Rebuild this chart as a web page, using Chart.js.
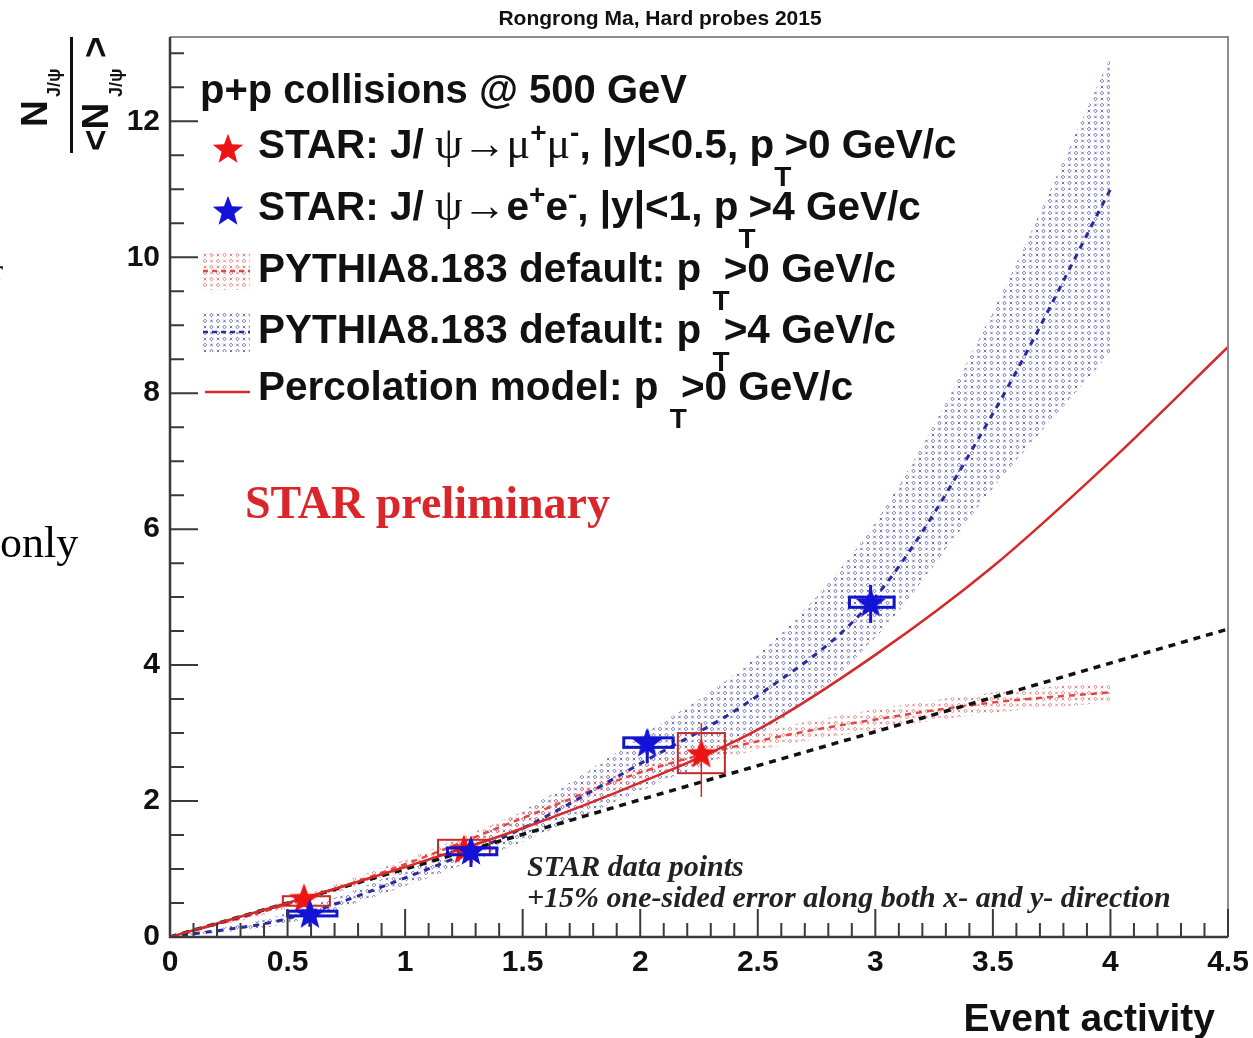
<!DOCTYPE html>
<html>
<head>
<meta charset="utf-8">
<script src="https://cdn.jsdelivr.net/npm/chart.js@4.4.1/dist/chart.umd.min.js"></script>
<style>
  html, body { margin: 0; padding: 0; background: #fff; }
</style>
</head>
<body>
<canvas id="plot" width="1253" height="1038"></canvas>
<script>
// axis labels
const xTickLabels = [0, 0.5, 1, 1.5, 2, 2.5, 3, 3.5, 4, 4.5];
const yTickLabels = [0, 2, 4, 6, 8, 10, 12];

// STAR J/psi -> e+e-, pT > 4 GeV/c
const eeX = [0.595, 1.28, 2.03, 2.98];
const eeY = [0.35, 1.28, 2.87, 4.93];
const eeStatLo = [0.15, 1.03, 2.56, 4.62];
const eeStatHi = [0.50, 1.43, 3.04, 5.18];
const eeBoxX0 = [0.50, 1.18, 1.93, 2.89];
const eeBoxX1 = [0.71, 1.39, 2.14, 3.08];
const eeBoxY0 = [0.31, 1.21, 2.79, 4.85];
const eeBoxY1 = [0.38, 1.31, 2.93, 5.00];

// STAR J/psi -> mu+mu-, pT > 0 GeV/c
const muX = [0.57, 1.25, 2.26];
const muY = [0.58, 1.30, 2.71];
const muStatLo = [0.50, 1.20, 2.06];
const muStatHi = [0.66, 1.40, 3.15];
const muBoxX0 = [0.48, 1.14, 2.16];
const muBoxX1 = [0.68, 1.36, 2.36];
const muBoxY0 = [0.46, 1.21, 2.41];
const muBoxY1 = [0.60, 1.43, 3.00];

// percolation model, pT > 0
const percX = [0, 0.5, 1.0, 1.5, 2.0, 2.5, 3.0, 3.5, 4.0, 4.5];
const percY = [0, 0.5, 1.03, 1.6, 2.27, 3.05, 4.15, 5.45, 7.0, 8.68];

// linear reference
const linX = [0, 1, 2, 3, 4, 4.5];
const linY = [0, 1.0, 2.02, 3.02, 4.03, 4.53];

// PYTHIA8.183 default
const pyX = [0, 0.5, 1.0, 1.5, 2.0, 2.5, 3.0, 3.5, 4.0];
const pyPt0Mean = [0, 0.48, 1.07, 1.75, 2.42, 2.88, 3.2, 3.45, 3.6];
const pyPt0Lo = [0, 0.42, 1.0, 1.66, 2.3, 2.75, 3.05, 3.3, 3.45];
const pyPt0Hi = [0, 0.54, 1.14, 1.84, 2.54, 3.01, 3.35, 3.6, 3.75];
const pyPt4Mean = [0, 0.27, 0.87, 1.6, 2.55, 3.55, 5.0, 7.7, 11.0];
const pyPt4Lo = [0, 0.2, 0.75, 1.4, 2.15, 2.95, 4.4, 6.6, 8.6];
const pyPt4Hi = [0, 0.35, 1.0, 1.85, 2.95, 4.15, 6.1, 9.2, 12.95];

const pts = (xs, ys) => xs.map((v, i) => ({ x: v, y: ys[i] }));

const canvas = document.getElementById('plot');
const ctx0 = canvas.getContext('2d');

function makeStar(fill, size) {
  const c = document.createElement('canvas');
  c.width = size; c.height = size;
  const g = c.getContext('2d');
  const cx = size / 2, cy = size / 2 + size * 0.05, R = size / 2 - 1, r = R * 0.42;
  g.beginPath();
  for (let k = 0; k < 10; k++) {
    const rad = k % 2 ? r : R;
    const ang = -Math.PI / 2 + k * Math.PI / 5;
    g.lineTo(cx + rad * Math.cos(ang), cy + rad * Math.sin(ang));
  }
  g.closePath();
  g.fillStyle = fill;
  g.fill();
  return c;
}

// ROOT-like hatch: small diamonds and crosses
function makeHatch(color) {
  const c = document.createElement('canvas');
  c.width = 13; c.height = 12;
  const g = c.getContext('2d');
  g.strokeStyle = color;
  g.lineWidth = 1;
  const diamond = (x, y) => {
    g.beginPath(); g.moveTo(x, y - 1.8); g.lineTo(x + 1.8, y); g.lineTo(x, y + 1.8); g.lineTo(x - 1.8, y); g.closePath(); g.stroke();
  };
  const cross = (x, y) => {
    g.beginPath(); g.moveTo(x - 1.3, y - 1.3); g.lineTo(x + 1.3, y + 1.3);
    g.moveTo(x + 1.3, y - 1.3); g.lineTo(x - 1.3, y + 1.3); g.stroke();
  };
  diamond(3.5, 3); cross(10, 3); cross(3.5, 9); diamond(10, 9);
  return ctx0.createPattern(c, 'repeat');
}

const starRed = makeStar('#ee1414', 34);
const starBlue = makeStar('#1212d8', 34);
const hatchBlue = makeHatch('rgba(80,80,170,0.8)');
const hatchRed = makeHatch('rgba(230,110,110,0.85)');

function drawErrors(chart, xs, lo, hi, bx0, bx1, by0, by1, color, barW, boxW) {
  const { ctx, scales: { x, y } } = chart;
  ctx.save();
  ctx.strokeStyle = color;
  for (let i = 0; i < xs.length; i++) {
    const px = x.getPixelForValue(xs[i]);
    ctx.lineWidth = barW;
    ctx.beginPath();
    ctx.moveTo(px, y.getPixelForValue(lo[i]));
    ctx.lineTo(px, y.getPixelForValue(hi[i]));
    ctx.stroke();
    const l = x.getPixelForValue(bx0[i]), r = x.getPixelForValue(bx1[i]);
    const t = y.getPixelForValue(by1[i]), b = y.getPixelForValue(by0[i]);
    ctx.lineWidth = boxW;
    ctx.strokeRect(l, t, r - l, b - t);
  }
  ctx.restore();
}

// draws a run of text pieces left to right
function rich(ctx, x, y, parts) {
  let cx = x;
  for (const p of parts) {
    ctx.font = p.f;
    ctx.fillText(p.t, cx, y + (p.dy || 0));
    cx += ctx.measureText(p.t).width + (p.dx || 0);
  }
}

const B = 'bold 40.5px "Liberation Sans"';
const S = 'bold 28px "Liberation Sans"';
const G = '44px "Liberation Serif"';

const decor = {
  id: 'decor',
  beforeDatasetDraw(chart, args) {
    if (args.index === 0) {
      drawErrors(chart, eeX, eeStatLo, eeStatHi, eeBoxX0, eeBoxX1, eeBoxY0, eeBoxY1, '#1414c8', 3, 3);
    } else if (args.index === 1) {
      drawErrors(chart, muX, muStatLo, muStatHi, muBoxX0, muBoxX1, muBoxY0, muBoxY1, '#c42a2a', 1.5, 2);
    }
  },
  afterDraw(chart) {
    const { ctx, chartArea: a, scales: { x, y } } = chart;
    ctx.save();

    // frame
    ctx.strokeStyle = '#8c8c8c';
    ctx.lineWidth = 2;
    ctx.beginPath();
    ctx.moveTo(a.left, a.top); ctx.lineTo(a.right, a.top); ctx.lineTo(a.right, a.bottom);
    ctx.stroke();
    ctx.strokeStyle = '#3a3a3a';
    ctx.lineWidth = 2.5;
    ctx.beginPath();
    ctx.moveTo(a.left, a.top); ctx.lineTo(a.left, a.bottom); ctx.lineTo(a.right, a.bottom);
    ctx.stroke();

    // inward ticks
    ctx.lineWidth = 2;
    ctx.beginPath();
    for (let i = 0; i <= 45; i++) {
      const px = x.getPixelForValue(i / 10);
      const len = i % 5 === 0 ? 28 : 14;
      ctx.moveTo(px, a.bottom); ctx.lineTo(px, a.bottom - len);
    }
    for (let i = 0; i <= 26; i++) {
      const py = y.getPixelForValue(i / 2);
      const len = i % 4 === 0 ? 28 : 14;
      ctx.moveTo(a.left, py); ctx.lineTo(a.left + len, py);
    }
    ctx.stroke();

    ctx.fillStyle = '#111';
    ctx.textBaseline = 'alphabetic';

    // title
    ctx.textAlign = 'center';
    ctx.font = 'bold 21px "Liberation Sans"';
    ctx.fillText('Rongrong Ma, Hard probes 2015', 660, 25);

    // x title
    ctx.textAlign = 'right';
    ctx.font = 'bold 39px "Liberation Sans"';
    ctx.fillText('Event activity', 1215, 1031);

    // y title: N_{J/psi} / <N_{J/psi}>, rotated
    ctx.textAlign = 'left';
    ctx.save();
    ctx.translate(0, 155);
    ctx.rotate(-Math.PI / 2);
    ctx.font = 'bold 37px "Liberation Sans"';
    ctx.fillText('N', 28, 47);
    ctx.fillText('<N', 4, 108);
    ctx.fillText('>', 97, 108);
    ctx.font = 'bold 18px "Liberation Sans"';
    ctx.fillText('J/\u03c8', 58, 60);
    ctx.fillText('J/\u03c8', 58, 122);
    ctx.fillRect(2, 70, 116, 3);
    ctx.restore();

    // legend
    ctx.fillStyle = '#111';
    ctx.font = 'bold 40px "Liberation Sans"';
    ctx.fillText('p+p collisions @ 500 GeV', 200, 103);
    ctx.drawImage(starRed, 211, 131);
    rich(ctx, 258, 158, [
      { t: 'STAR: J/ ', f: B }, { t: '\u03c8', f: G }, { t: '\u2192', f: G }, { t: '\u03bc', f: G },
      { t: '+', f: S, dy: -16 }, { t: '\u03bc', f: G }, { t: '-', f: S, dy: -16 },
      { t: ', |y|<0.5, p', f: B, dx: 0 }, { t: 'T', f: S, dy: 28, dx: -7 }, { t: '>0 GeV/c', f: B }
    ]);
    ctx.drawImage(starBlue, 211, 193);
    rich(ctx, 258, 220, [
      { t: 'STAR: J/ ', f: B }, { t: '\u03c8', f: G }, { t: '\u2192', f: G }, { t: 'e', f: B },
      { t: '+', f: S, dy: -16 }, { t: 'e', f: B }, { t: '-', f: S, dy: -16 },
      { t: ', |y|<1, p', f: B, dx: 0 }, { t: 'T', f: S, dy: 28, dx: -7 }, { t: '>4 GeV/c', f: B }
    ]);

    ctx.fillStyle = hatchRed;
    ctx.fillRect(203, 252, 47, 38);
    ctx.fillStyle = hatchBlue;
    ctx.fillRect(203, 313, 47, 39);
    ctx.lineWidth = 2.5;
    ctx.setLineDash([5, 4]);
    ctx.strokeStyle = '#e04848';
    ctx.beginPath(); ctx.moveTo(203, 271); ctx.lineTo(250, 271); ctx.stroke();
    ctx.strokeStyle = '#2a2a9c';
    ctx.beginPath(); ctx.moveTo(203, 332); ctx.lineTo(250, 332); ctx.stroke();
    ctx.setLineDash([]);
    ctx.strokeStyle = '#d42a2a';
    ctx.beginPath(); ctx.moveTo(205, 392); ctx.lineTo(250, 392); ctx.stroke();

    ctx.fillStyle = '#111';
    rich(ctx, 258, 282, [{ t: 'PYTHIA8.183 default: p ', f: B }, { t: 'T', f: S, dy: 28, dx: -6 }, { t: '>0 GeV/c', f: B }]);
    rich(ctx, 258, 343, [{ t: 'PYTHIA8.183 default: p ', f: B }, { t: 'T', f: S, dy: 28, dx: -6 }, { t: '>4 GeV/c', f: B }]);
    rich(ctx, 258, 400, [{ t: 'Percolation model: p ', f: B }, { t: 'T', f: S, dy: 28, dx: -6 }, { t: '>0 GeV/c', f: B }]);

    // annotations
    ctx.fillStyle = '#d8262a';
    ctx.font = 'bold 46px "Liberation Serif"';
    ctx.fillText('STAR preliminary', 245, 518);
    ctx.fillStyle = '#222';
    ctx.font = 'italic bold 30px "Liberation Serif"';
    ctx.fillText('STAR data points', 527, 876);
    ctx.fillText('+15% one-sided error along both x- and y- direction', 527, 907);

    // slide text at the left margin
    ctx.fillStyle = '#000';
    ctx.font = '44px "Liberation Serif"';
    ctx.fillText('only', 0, 557);
    ctx.font = '30px "Liberation Serif"';
    ctx.fillText('r', -7, 280);

    ctx.restore();
  }
};

new Chart(canvas, {
  type: 'scatter',
  data: {
    datasets: [
      { label: 'STAR J/psi->ee', data: pts(eeX, eeY), pointStyle: starBlue, pointRadius: 17, order: 0 },
      { label: 'STAR J/psi->mumu', data: pts(muX, muY), pointStyle: starRed, pointRadius: 17, order: 0 },
      { label: 'Percolation', data: pts(percX, percY), showLine: true, borderColor: '#d42a2a', borderWidth: 2.5,
        pointRadius: 0, cubicInterpolationMode: 'monotone', order: 1 },
      { label: 'Linear', data: pts(linX, linY), showLine: true, borderColor: '#111', borderWidth: 3.5,
        borderDash: [7, 6], pointRadius: 0, order: 2 },
      { label: 'PYTHIA pT>4', data: pts(pyX, pyPt4Mean), showLine: true, borderColor: '#2a2a9c', borderWidth: 3,
        borderDash: [6, 6], pointRadius: 0, cubicInterpolationMode: 'monotone', order: 3 },
      { label: 'PYTHIA pT>0', data: pts(pyX, pyPt0Mean), showLine: true, borderColor: '#e04848', borderWidth: 2.5,
        borderDash: [6, 5], pointRadius: 0, cubicInterpolationMode: 'monotone', order: 3 },
      { label: 'PYTHIA pT>4 low', data: pts(pyX, pyPt4Lo), showLine: true, borderWidth: 0, borderColor: 'transparent',
        pointRadius: 0, cubicInterpolationMode: 'monotone', order: 5 },
      { label: 'PYTHIA pT>4 high', data: pts(pyX, pyPt4Hi), showLine: true, borderWidth: 0, borderColor: 'transparent',
        pointRadius: 0, cubicInterpolationMode: 'monotone', fill: { target: 6 }, backgroundColor: hatchBlue, order: 5 },
      { label: 'PYTHIA pT>0 low', data: pts(pyX, pyPt0Lo), showLine: true, borderWidth: 0, borderColor: 'transparent',
        pointRadius: 0, cubicInterpolationMode: 'monotone', order: 4 },
      { label: 'PYTHIA pT>0 high', data: pts(pyX, pyPt0Hi), showLine: true, borderWidth: 0, borderColor: 'transparent',
        pointRadius: 0, cubicInterpolationMode: 'monotone', fill: { target: 8 }, backgroundColor: hatchRed, order: 4 }
    ]
  },
  options: {
    responsive: false,
    animation: false,
    devicePixelRatio: 1,
    events: [],
    layout: { padding: { top: 37, right: 25, left: 0, bottom: 0 } },
    plugins: { legend: { display: false }, tooltip: { enabled: false }, title: { display: false } },
    scales: {
      x: {
        type: 'linear', min: 0, max: 4.5,
        grid: { display: false }, border: { display: false },
        afterBuildTicks: s => { s.ticks = xTickLabels.map(v => ({ value: v })); },
        afterFit: s => { s.height = 101; s.paddingLeft = 0; s.paddingRight = 0; },
        ticks: { autoSkip: false, maxRotation: 0, padding: 0, color: '#111',
                 font: { family: 'Liberation Sans', size: 30, weight: 'bold' }, callback: v => String(v) }
      },
      y: {
        type: 'linear', min: 0, max: 13.24,
        grid: { display: false }, border: { display: false },
        afterBuildTicks: s => { s.ticks = yTickLabels.map(v => ({ value: v })); },
        afterFit: s => { s.width = 170; s.paddingTop = 0; s.paddingBottom = 0; },
        ticks: { autoSkip: false, padding: 2, color: '#111',
                 font: { family: 'Liberation Sans', size: 30, weight: 'bold' }, callback: v => String(v) }
      }
    }
  },
  plugins: [decor]
});
</script>
</body>
</html>
